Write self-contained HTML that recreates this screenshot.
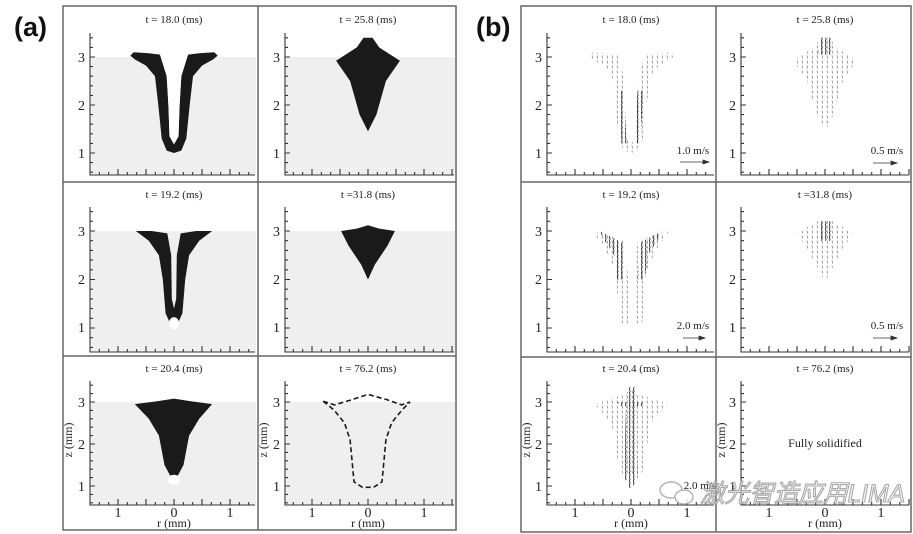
<!DOCTYPE html>
<html><head><meta charset="utf-8"><style>
html,body{margin:0;padding:0;background:#fff;}
svg{display:block;}
text{font-family:"Liberation Serif",serif;fill:#222;}
.tt{font-size:11px;text-anchor:middle;}
.zl{font-size:14px;text-anchor:end;}
.xl{font-size:14px;text-anchor:middle;}
.ab{font-family:"Liberation Sans",sans-serif;font-weight:bold;font-size:27px;fill:#111;}
.sp{font-size:11px;text-anchor:middle;}
</style></head><body>
<svg id="s" width="913" height="534" viewBox="0 0 913 534" xmlns="http://www.w3.org/2000/svg">
<defs>
<pattern id="vp" width="5" height="5" patternUnits="userSpaceOnUse"><line x1="2" y1="0.5" x2="2.6" y2="3.5" stroke="#777" stroke-width="0.7"/></pattern>
<pattern id="vd" width="4" height="4" patternUnits="userSpaceOnUse"><line x1="1.5" y1="0" x2="2" y2="4" stroke="#222" stroke-width="0.9"/></pattern>
</defs>
<g id="bg"></g>
<g id="shp"></g>
<g id="ax" stroke="#333" stroke-width="1" fill="none"></g>
<g stroke="#666" stroke-width="1.5" fill="none">
<rect x="63" y="6" width="393" height="524"/>
<line x1="258" y1="6" x2="258" y2="530"/><line x1="63" y1="182" x2="456" y2="182"/><line x1="63" y1="356" x2="456" y2="356"/>
<rect x="521" y="6" width="390" height="526"/>
<line x1="716" y1="6" x2="716" y2="532"/><line x1="521" y1="182" x2="911" y2="182"/><line x1="521" y1="357" x2="911" y2="357"/>
</g>
<text class="ab" x="14" y="36">(a)</text>
<text class="ab" x="476" y="36">(b)</text>
<text class="tt" x="174" y="23">t = 18.0 (ms)</text>
<text class="tt" x="368" y="23">t = 25.8 (ms)</text>
<text class="tt" x="174" y="198">t = 19.2 (ms)</text>
<text class="tt" x="368" y="198">t =31.8 (ms)</text>
<text class="tt" x="174" y="372">t = 20.4 (ms)</text>
<text class="tt" x="368" y="372">t = 76.2 (ms)</text>
<text class="tt" x="631" y="23">t = 18.0 (ms)</text>
<text class="tt" x="825" y="23">t = 25.8 (ms)</text>
<text class="tt" x="631" y="198">t = 19.2 (ms)</text>
<text class="tt" x="825" y="198">t =31.8 (ms)</text>
<text class="tt" x="631" y="372">t = 20.4 (ms)</text>
<text class="tt" x="825" y="372">t = 76.2 (ms)</text>
<g>
<text class="zl" x="85" y="62">3</text><text class="zl" x="85" y="110">2</text><text class="zl" x="85" y="158">1</text>
<text class="zl" x="280" y="62">3</text><text class="zl" x="280" y="110">2</text><text class="zl" x="280" y="158">1</text>
<text class="zl" x="85" y="236">3</text><text class="zl" x="85" y="284">2</text><text class="zl" x="85" y="332">1</text>
<text class="zl" x="280" y="236">3</text><text class="zl" x="280" y="284">2</text><text class="zl" x="280" y="332">1</text>
<text class="zl" x="85" y="407">3</text><text class="zl" x="85" y="449">2</text><text class="zl" x="85" y="491">1</text>
<text class="zl" x="280" y="407">3</text><text class="zl" x="280" y="449">2</text><text class="zl" x="280" y="491">1</text>
<text class="zl" x="542" y="62">3</text><text class="zl" x="542" y="110">2</text><text class="zl" x="542" y="158">1</text>
<text class="zl" x="736" y="62">3</text><text class="zl" x="736" y="110">2</text><text class="zl" x="736" y="158">1</text>
<text class="zl" x="542" y="236">3</text><text class="zl" x="542" y="284">2</text><text class="zl" x="542" y="332">1</text>
<text class="zl" x="736" y="236">3</text><text class="zl" x="736" y="284">2</text><text class="zl" x="736" y="332">1</text>
<text class="zl" x="542" y="407">3</text><text class="zl" x="542" y="449">2</text><text class="zl" x="542" y="491">1</text>
<text class="zl" x="736" y="407">3</text><text class="zl" x="736" y="449">2</text><text class="zl" x="736" y="491">1</text>
</g>
<text class="xl" x="118" y="517">1</text><text class="xl" x="174" y="517">0</text><text class="xl" x="230" y="517">1</text>
<text class="xl" x="312" y="517">1</text><text class="xl" x="368" y="517">0</text><text class="xl" x="424" y="517">1</text>
<text class="xl" x="575" y="517">1</text><text class="xl" x="631" y="517">0</text><text class="xl" x="687" y="517">1</text>
<text class="xl" x="769" y="517">1</text><text class="xl" x="825" y="517">0</text><text class="xl" x="881" y="517">1</text>
<text class="tt" x="174" y="527" style="font-size:12px">r (mm)</text>
<text class="tt" x="368" y="527" style="font-size:12px">r (mm)</text>
<text class="tt" x="631" y="527" style="font-size:12px">r (mm)</text>
<text class="tt" x="825" y="527" style="font-size:12px">r (mm)</text>
<text class="tt" transform="translate(72,440) rotate(-90)" style="font-size:12px">z (mm)</text>
<text class="tt" transform="translate(267,440) rotate(-90)" style="font-size:12px">z (mm)</text>
<text class="tt" transform="translate(530,440) rotate(-90)" style="font-size:12px">z (mm)</text>
<text class="tt" transform="translate(725,440) rotate(-90)" style="font-size:12px">z (mm)</text>
<text class="sp" x="693" y="154">1.0 m/s</text>
<text class="sp" x="887" y="154">0.5 m/s</text>
<text class="sp" x="693" y="329">2.0 m/s</text>
<text class="sp" x="887" y="329">0.5 m/s</text>
<text class="sp" x="700" y="489">2.0 m/s</text>
<g stroke="#333" stroke-width="0.8" fill="#333">
<line x1="680" y1="162" x2="705" y2="162"/><path d="M709 162 L703 160 L703 164Z"/>
<line x1="873" y1="163" x2="893" y2="163"/><path d="M897 163 L891 161 L891 165Z"/>
<line x1="683" y1="338" x2="701" y2="338"/><path d="M705 338 L699 336 L699 340Z"/>
<line x1="873" y1="338" x2="893" y2="338"/><path d="M897 338 L891 336 L891 340Z"/>
</g>
<text x="825" y="447" style="font-size:12px;text-anchor:middle;">Fully solidified</text>
<g opacity="0.85">
<ellipse cx="671" cy="490" rx="11" ry="8" fill="#fff" stroke="#aaa" stroke-width="1.5"/>
<ellipse cx="684" cy="497" rx="9" ry="7" fill="#fff" stroke="#aaa" stroke-width="1.5"/>
<text x="700" y="502" textLength="205" lengthAdjust="spacingAndGlyphs" style="font-family:'Liberation Sans','Noto Sans CJK SC',sans-serif;font-size:25px;fill:#fff;stroke:#999;stroke-width:1.1;font-style:italic;">激光智造应用LIMA</text>
</g>
</svg>
<script>
const NS="http://www.w3.org/2000/svg";
const cols=[{ax:90,cx:174,xr:255,a:1},{ax:285,cx:368,xr:454,a:1},{ax:547,cx:631,xr:714,a:0},{ax:741,cx:825,xr:909,a:0}];
const rows=[{ty:33,z3:57,sz:48,by:175},{ty:207,z3:231,sz:48.5,by:352},{ty:381,z3:402,sz:42,by:505}];
function el(p,t,a){const e=document.createElementNS(NS,t);for(const k in a)e.setAttribute(k,a[k]);document.getElementById(p).appendChild(e);return e;}
function P(c,r,pts){return pts.map(p=>(c.cx+p[0]*56).toFixed(1)+","+(r.z3-(p[1]-3)*r.sz).toFixed(1)).join(" ");}
let d="";
rows.forEach((r,ri)=>cols.forEach((c,ci)=>{
 if(c.a) el("bg","rect",{x:c.ax+1,y:r.z3,width:c.xr-c.ax,height:r.by-r.z3,fill:"#efefef"});
 d+=`M${c.ax} ${r.ty}V${r.by}H${c.xr}`;
 for(let z=0.6;z<=3.45;z+=0.2){const y=r.z3-(z-3)*r.sz;const maj=Math.abs(z-Math.round(z))<0.05;d+=`M${c.ax} ${y.toFixed(1)}h${maj?5:3}`;}
 const st=56/6;for(let i=-9;i<=9;i++){const x=c.cx+i*st;if(x<c.ax||x>c.xr)continue;const maj=i%3==0;d+=`M${x.toFixed(1)} ${r.by}v${maj?-6:-3}`;}
}));
el("ax","path",{d:d,"stroke-width":1.1});
const A=cols[0],B=cols[1],C=cols[2],D=cols[3],R1=rows[0],R2=rows[1],R3=rows[2];
const wing=[[-0.78,3.03],[-0.72,3.1],[-0.45,3.08],[-0.25,3.05],[-0.13,2.6],[-0.1,2.0],[-0.08,1.35],[0,1.18],[0.08,1.35],[0.1,2.0],[0.13,2.6],[0.25,3.05],[0.45,3.08],[0.72,3.1],[0.78,3.03],[0.7,2.95],[0.5,2.82],[0.34,2.6],[0.28,2.0],[0.22,1.3],[0.13,1.05],[0,1.0],[-0.13,1.05],[-0.22,1.3],[-0.28,2.0],[-0.34,2.6],[-0.5,2.82],[-0.7,2.95]];
el("shp","polygon",{points:P(A,R1,wing),fill:"#1a1a1a"});
el("shp","polygon",{points:P(A,R1,[[-0.25,3.1],[-0.25,3.05],[-0.13,2.6],[-0.1,2.0],[-0.08,1.35],[0,1.18],[0.08,1.35],[0.1,2.0],[0.13,2.6],[0.25,3.05],[0.25,3.1]]),fill:"#fff"});
const dia=[[-0.08,3.4],[0.08,3.4],[0.2,3.2],[0.57,2.92],[0.32,2.5],[0.15,1.8],[0,1.45],[-0.15,1.8],[-0.32,2.5],[-0.57,2.92],[-0.2,3.2]];
el("shp","polygon",{points:P(B,R1,dia),fill:"#1a1a1a"});
const w3=[[-0.68,3.0],[-0.4,3.0],[-0.12,2.95],[-0.05,2.5],[-0.04,1.6],[0,1.4],[0.04,1.6],[0.05,2.5],[0.12,2.95],[0.4,3.0],[0.68,3.0],[0.45,2.8],[0.27,2.5],[0.2,2.0],[0.15,1.3],[0.05,1.05],[-0.05,1.05],[-0.15,1.3],[-0.2,2.0],[-0.27,2.5],[-0.45,2.8]];
el("shp","polygon",{points:P(A,R2,w3),fill:"#1a1a1a"});
el("shp","ellipse",{cx:A.cx,cy:R2.z3+1.9*R2.sz,rx:5,ry:6,fill:"#fff"});
const d4=[[-0.48,3.0],[-0.2,3.05],[0,3.12],[0.2,3.05],[0.48,3.0],[0.35,2.7],[0.12,2.3],[0,2.0],[-0.12,2.3],[-0.35,2.7]];
el("shp","polygon",{points:P(B,R2,d4),fill:"#1a1a1a"});
const d5=[[-0.7,2.95],[-0.3,3.02],[0,3.08],[0.3,3.02],[0.68,2.95],[0.45,2.6],[0.27,2.2],[0.17,1.5],[0.07,1.25],[-0.07,1.25],[-0.17,1.5],[-0.27,2.2],[-0.45,2.6]];
el("shp","polygon",{points:P(A,R3,d5),fill:"#1a1a1a"});
el("shp","ellipse",{cx:A.cx,cy:R3.z3+1.85*R3.sz,rx:6,ry:5,fill:"#fff"});
const d6=[[-0.8,3.02],[-0.6,2.93],[-0.3,3.05],[0,3.18],[0.35,3.05],[0.6,2.93],[0.75,3.0],[0.6,2.8],[0.42,2.5],[0.32,2.1],[0.25,1.1],[0.1,0.97],[-0.1,0.97],[-0.25,1.1],[-0.32,2.1],[-0.42,2.5],[-0.6,2.8],[-0.8,3.02]];
el("shp","polyline",{points:P(B,R3,d6),fill:"none",stroke:"#1a1a1a","stroke-width":1.6,"stroke-dasharray":"5,3"});
el("shp","polygon",{points:P(C,R1,wing),fill:"url(#vp)"});
el("shp","polygon",{points:P(C,R1,[[-0.22,2.3],[-0.12,2.3],[-0.08,1.2],[-0.17,1.2]]),fill:"url(#vd)"});
el("shp","polygon",{points:P(C,R1,[[0.22,2.3],[0.12,2.3],[0.08,1.2],[0.17,1.2]]),fill:"url(#vd)"});
el("shp","polygon",{points:P(D,R1,dia),fill:"url(#vp)"});
el("shp","polygon",{points:P(D,R1,[[-0.1,3.4],[0.1,3.4],[0.13,3.05],[-0.13,3.05]]),fill:"url(#vd)"});
const w3b=[[-0.68,3.0],[-0.12,2.8],[-0.05,2.0],[-0.05,1.1],[0.05,1.1],[0.05,2.0],[0.12,2.8],[0.68,3.0],[0.45,2.6],[0.28,2.2],[0.2,1.1],[-0.2,1.1],[-0.28,2.2],[-0.45,2.6]];
el("shp","polygon",{points:P(C,R2,w3b),fill:"url(#vp)"});
el("shp","polygon",{points:P(C,R2,[[-0.55,3.0],[-0.15,2.75],[-0.12,2.0],[-0.25,2.0],[-0.3,2.5],[-0.5,2.85]]),fill:"url(#vd)"});
el("shp","polygon",{points:P(C,R2,[[0.55,3.0],[0.15,2.75],[0.12,2.0],[0.25,2.0],[0.3,2.5],[0.5,2.85]]),fill:"url(#vd)"});
el("shp","polygon",{points:P(D,R2,[[-0.5,2.95],[-0.15,3.2],[0.15,3.2],[0.5,2.95],[0.25,2.5],[0,1.95],[-0.25,2.5]]),fill:"url(#vp)"});
el("shp","polygon",{points:P(D,R2,[[-0.1,3.2],[0.1,3.2],[0.1,2.8],[-0.1,2.8]]),fill:"url(#vd)"});
el("shp","polygon",{points:P(C,R3,[[-0.65,2.95],[-0.1,3.2],[0,3.3],[0.1,3.2],[0.68,2.95],[0.35,2.5],[0.2,1.3],[-0.2,1.3],[-0.35,2.5]]),fill:"url(#vp)"});
el("shp","polygon",{points:P(C,R3,[[-0.08,3.35],[0.08,3.35],[0.12,1.2],[0,0.9],[-0.12,1.2]]),fill:"url(#vd)"});
el("shp","polygon",{points:P(C,R3,[[-0.25,3.0],[0.25,3.0],[0.2,2.9],[-0.2,2.9]]),fill:"url(#vd)"});
</script>
</body></html>
